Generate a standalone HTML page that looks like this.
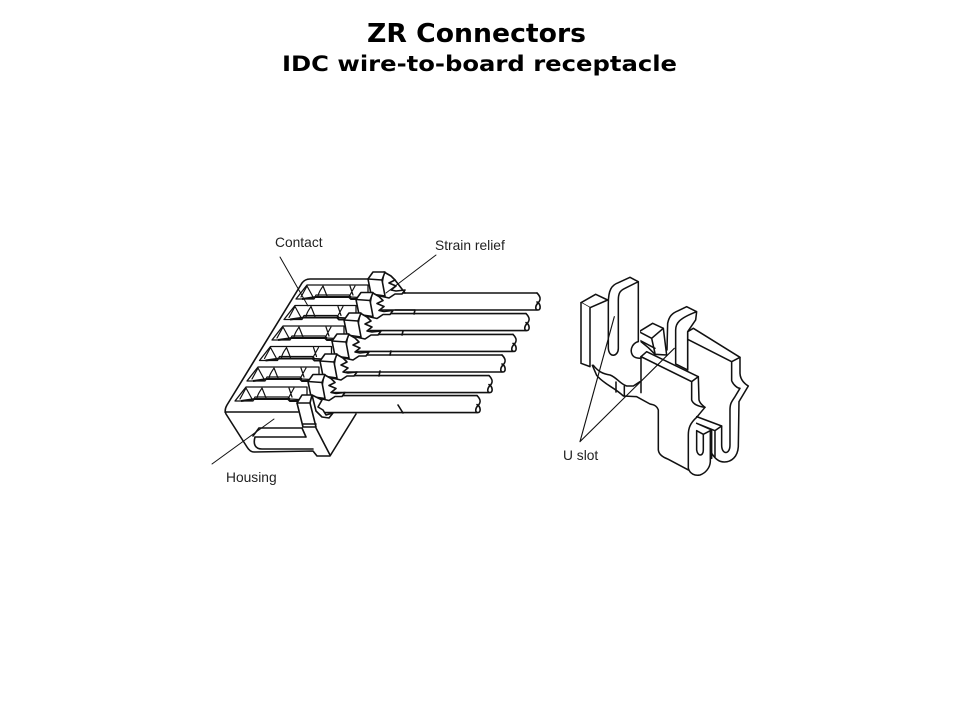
<!DOCTYPE html>
<html>
<head>
<meta charset="utf-8">
<style>
html,body{margin:0;padding:0;background:#fff;}
svg{display:block;}
.t{font-family:"DejaVu Sans","Liberation Sans",sans-serif;font-weight:bold;fill:#000;}
.l{font-family:"Liberation Sans",sans-serif;font-size:13.8px;fill:#222;}
.d{fill:none;stroke:#111;stroke-width:1.6;stroke-linejoin:round;stroke-linecap:round;}
.f{fill:#fff;stroke:#111;stroke-width:1.6;stroke-linejoin:round;stroke-linecap:round;}
.h{fill:none;stroke:#111;stroke-width:1;stroke-linecap:round;}
.r{stroke-width:4.6 !important;}
</style>
</head>
<body>
<svg width="960" height="720" viewBox="0 0 960 720" xmlns="http://www.w3.org/2000/svg">
<rect width="960" height="720" fill="#fff"/>
<text class="t" x="367" y="42" font-size="26" textLength="219" lengthAdjust="spacingAndGlyphs">ZR Connectors</text>
<text class="t" x="282" y="71" font-size="21" textLength="395" lengthAdjust="spacingAndGlyphs">IDC wire-to-board receptacle</text>

<defs>
<g id="recess">
  <path class="f" style="stroke-width:1.3" d="M296 299 L307 285 L368 285 L368 298 L351 297 L349 295 L316 295 L314 299 Z"/>
  <path d="M302 299 L316 297 L349 297 L351 299 L366 299" fill="none" stroke="#111" stroke-width="2"/>
  <path class="d" style="stroke-width:1.2" d="M301 297 L307 286 L313 297 M318 296 C319 291 322 288 323 286 L327 296 M350 286 L353 295 M355 286 L350 295"/>
</g>
<g id="wire">
  <path d="M378 293 L537 293 M381 310 L537 310" class="d"/>
  <path class="d" d="M537 293 C541 297 541 300 538 303 C535 306 535 310 538 310 C541 310 541 304 537 302"/>
</g>
<g id="block">
  <path class="f" d="M384 272 L391 276 L395 280 L389 283 L396 286 L391 290 L396 291 L405 290 L402 294 L395 294 L389 298 L380 296 Z"/>
  <path class="f" d="M368 279 L373 272 L385 272 L382 280 L385 296 L371 294 Z"/>
  <path class="d" d="M368 279 L382 280"/>
</g>
</defs>

<!-- housing -->
<path class="d" d="M372 279 L310 279 Q305 279 302 283 L227 405 Q224 410 226 414 L247 447 Q250 452 254 452 L313 451 L317 456 L330 456 L356 414"/>
<path class="d" d="M225 412 L298 412"/>
<path class="d" d="M383 273 L395 280 L405 293"/>

<!-- rows -->
<use href="#recess"/>
<use href="#recess" transform="translate(-12 20.5)"/>
<use href="#recess" transform="translate(-24 41)"/>
<use href="#recess" transform="translate(-36.5 61.5)"/>
<use href="#recess" transform="translate(-49 82)"/>
<use href="#recess" transform="translate(-61 102)"/>

<!-- wires -->
<use href="#wire"/>
<use href="#wire" transform="translate(-11 20.6)"/>
<use href="#wire" transform="translate(-24 41.4)"/>
<use href="#wire" transform="translate(-35 62)"/>
<use href="#wire" transform="translate(-48 82.6)"/>
<use href="#wire" transform="translate(-60 102.6)"/>
<path class="d" d="M395 310 L415 310 M415 310 L414 314 M403 331 L402 335 M391 351 L390 355 M380 371 L379 376 M398 405 L403 413"/>

<!-- blocks -->
<use href="#block"/>
<use href="#block" transform="translate(-12 20.5)"/>
<use href="#block" transform="translate(-24 41)"/>
<use href="#block" transform="translate(-36 62)"/>
<use href="#block" transform="translate(-48 82)"/>
<use href="#block" transform="translate(-60 102.5)"/>

<!-- end tab -->
<path class="f" d="M312 395 L318 398 L322 400 L318 407 L323 410 L326 415 L333 413 L329 418 L322 417 L316 411 Z"/>
<path class="f" d="M297 403 L302 395 L312 395 L310 403 L316 427 L303 427 Z"/>
<path class="d" d="M297 403 L310 403"/>
<path class="d" d="M303 424 L316 424"/>
<path class="d" d="M302 428 L259 428 M306 437 L255 437 M255 437 C253 444 255 449 262 449 L313 449 M259 428 L253 436 M306 437 L302 428 M316 428 L330 455"/>

<!-- right fork -->
<g transform="translate(555 260) scale(.3333)">
  <path class="f r" d="M78 128 L122 103 L158 120 L105 143 Z"/>
  <path class="f r" d="M78 128 L78 310 L105 320 L105 143"/>
  <path class="f r" d="M398 215 L415 205 L555 292 L530 305 L398 238 Z"/>
  <path class="d r" d="M398 220 L398 330 M530 305 L530 362 C535 375 548 385 555 385 L540 410 C530 425 525 430 525 450 L525 555 C525 585 500 585 500 555 L500 498"/>
  <path class="d r" d="M555 292 L555 340 C556 360 570 372 580 378 L552 425 L550 560 C548 590 530 606 508 606 C490 606 480 595 470 580"/>
  <path class="f r" d="M252 215 L293 190 L325 205 L335 285 L300 283 L280 263 L252 240 Z"/>
  <path class="d r" d="M252 215 L290 235 L325 205 M290 235 L300 280 M252 240 L300 265"/>
  <path class="f r" d="M250 65 L225 52 L190 68 C170 75 160 90 160 130 L160 265 C162 295 190 290 190 265 L190 120 C190 100 195 92 210 85 L250 65 L250 245 C235 248 225 265 230 280 C235 295 250 295 258 295"/>
  <path class="f r" d="M258 290 L275 275 L430 350 L410 365 Z"/>
  <path class="f r" d="M258 290 L410 365 L410 420 C415 435 435 440 450 442 L425 472 C405 490 400 505 400 525 L400 625 C405 642 420 648 435 645 C450 640 465 625 466 605 L466 515"/>
  <path class="d r" d="M430 350 L432 420 C435 432 445 438 450 442 M258 290 L258 398"/>
  <path class="d r" d="M112 316 L125 346 C150 375 175 380 205 408 L245 410 L285 432 C295 434 305 436 310 450 L310 570 C312 585 325 592 340 598 L400 630"/>
  <path class="d r" d="M115 316 C130 335 145 342 165 345 C185 352 195 372 215 378 L235 378 L255 365 M183 366 L183 396 M208 378 L208 408"/>
  <path class="f r" d="M336 270 L338 190 C342 170 350 160 370 152 L395 140 L425 155 L422 180 L398 215 L398 330 L362 312 L362 210 C362 190 372 175 425 155"/>
  <path class="d r" d="M425 470 L500 498 L480 512 L425 490 M425 490 L470 510 L445 523 L425 512 M425 512 L425 570 C428 590 445 590 445 570 L445 523 M470 510 L470 595 M480 512 L480 590"/>
  <path class="h" style="stroke-width:3.4" d="M75 545 L178 170 M75 545 L358 265"/>
</g>

<!-- leaders -->
<path class="h" d="M280 257 L308 306"/>
<path class="h" d="M436 255 L386 293"/>
<path class="h" d="M274 419 L212 464"/>

<text class="l" x="275" y="247">Contact</text>
<text class="l" x="435" y="250">Strain relief</text>
<text class="l" x="226" y="482">Housing</text>
<text class="l" x="563" y="460">U slot</text>
</svg>
</body>
</html>
